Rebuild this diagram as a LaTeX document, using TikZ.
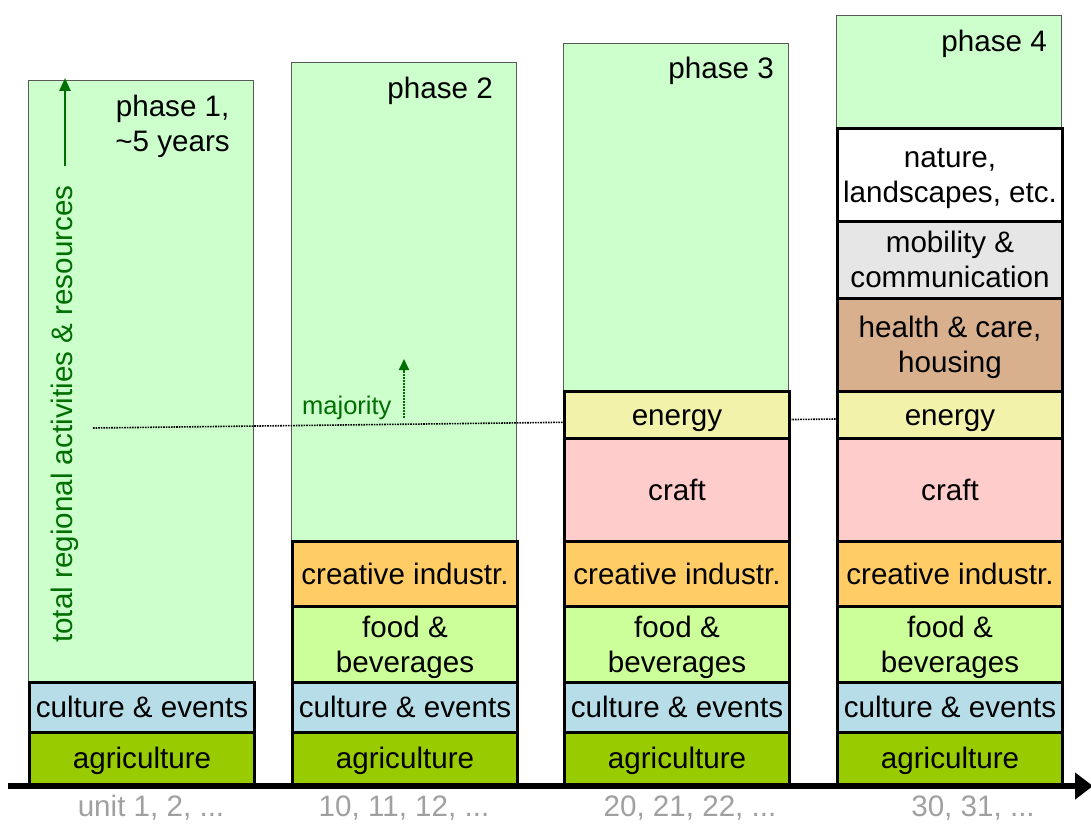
\documentclass[tikz,border=0pt]{standalone}
\usepackage{fontspec}
\setmainfont{Liberation Sans}
\usetikzlibrary{arrows.meta}
\definecolor{bggreen}{HTML}{CCFFCC}
\definecolor{cultcol}{HTML}{B7DEE8}
\definecolor{agricol}{HTML}{99CC00}
\definecolor{foodcol}{HTML}{CCFF99}
\definecolor{creacol}{HTML}{FFCC66}
\definecolor{craftcol}{HTML}{FFCCCC}
\definecolor{energycol}{HTML}{F2F2AA}
\definecolor{healthcol}{HTML}{D8B08E}
\definecolor{mobcol}{HTML}{E6E6E6}
\definecolor{darkgrn}{RGB}{0,110,0}
\definecolor{axisgray}{RGB}{160,160,160}
\newcommand{\lblfont}{\fontsize{29.6}{35}\selectfont}
\newcommand{\st}{\rule[-7.3pt]{0pt}{35pt}}
\newcommand{\segbox}[6]{%
  \node[seg, fill=#5, minimum height={(#4-#3)*1pt}, anchor=north west] (#1) at (#2,#3) {#6};}
\newcommand{\bgbox}[4]{%
  \node[bgbox, minimum height={(#4-#3)*1pt}, anchor=north west] (#1) at (#2,#3) {};}
\begin{document}
\begin{tikzpicture}[x=1pt,y=-1pt,
  seg/.style={draw=black, line width=3pt, minimum width=225pt, inner sep=0pt, align=center, font=\lblfont},
  bgbox/.style={draw=black!65, line width=1.2pt, fill=bggreen, minimum width=225pt, inner sep=0pt},
  phaselbl/.style={font=\lblfont, align=center, anchor=east, inner sep=0pt},
  unitlbl/.style={font=\lblfont, text=axisgray, inner sep=0pt},
  grnlbl/.style={text=darkgrn, inner sep=0pt}]
\useasboundingbox (0,0) rectangle (1091,824);

% green backgrounds
\bgbox{bg1}{28}{80}{681}
\bgbox{bg2}{291}{62}{540}
\bgbox{bg3}{563}{43}{390}
\bgbox{bg4}{836}{15}{127}

% phase labels
\node[phaselbl] (ph1) at (230,124) {\st phase 1,\\\st\textasciitilde5 years};
\node[phaselbl] (ph2) at (493,88) {\st phase 2};
\node[phaselbl] (ph3) at (774,68) {\st phase 3};
\node[phaselbl] (ph4) at (1047,41) {\st phase 4};

% majority dotted line
\coordinate (majL) at (93,428);
\coordinate (majR) at (836,419);
\draw[black, line width=1.6pt, densely dotted] (majL) -- (majR);

% left axis label and arrow
\node[grnlbl, font=\lblfont, rotate=90] (total) at (65,414) {total regional activities \& resources};
\coordinate (upS) at (65,166);
\coordinate (upE) at (65,78);
\draw[darkgrn, line width=2.5pt, -{Triangle[length=13pt,width=11pt]}] (upS) -- (upE);

% majority label and arrow
\node[grnlbl, font=\fontsize{25.5}{28}\selectfont, anchor=base west] (maj) at (302,414) {majority};
\coordinate (mjS) at (404,418);
\coordinate (mjE) at (404,359);
\draw[darkgrn, line width=2pt, densely dotted, -{Triangle[length=11pt,width=10pt]}] (mjS) -- (mjE);

% column 1
\segbox{c1cult}{28}{681}{731}{cultcol}{\st culture \& events}
\segbox{c1agri}{28}{731}{783}{agricol}{\st agriculture}
% column 2
\segbox{c2crea}{291}{540}{605}{creacol}{\st creative industr.}
\segbox{c2food}{291}{605}{681}{foodcol}{\st food \&\\\st beverages}
\segbox{c2cult}{291}{681}{731}{cultcol}{\st culture \& events}
\segbox{c2agri}{291}{731}{783}{agricol}{\st agriculture}
% column 3
\segbox{c3ener}{563}{390}{437}{energycol}{\st energy}
\segbox{c3craft}{563}{437}{540}{craftcol}{\st craft}
\segbox{c3crea}{563}{540}{605}{creacol}{\st creative industr.}
\segbox{c3food}{563}{605}{681}{foodcol}{\st food \&\\\st beverages}
\segbox{c3cult}{563}{681}{731}{cultcol}{\st culture \& events}
\segbox{c3agri}{563}{731}{783}{agricol}{\st agriculture}
% column 4
\segbox{c4nat}{836}{127}{220}{white}{\st nature,\\\st landscapes, etc.}
\segbox{c4mob}{836}{220}{297}{mobcol}{\st mobility \&\\\st communication}
\segbox{c4hea}{836}{297}{390}{healthcol}{\st health \& care,\\\st housing}
\segbox{c4ener}{836}{390}{437}{energycol}{\st energy}
\segbox{c4craft}{836}{437}{540}{craftcol}{\st craft}
\segbox{c4crea}{836}{540}{605}{creacol}{\st creative industr.}
\segbox{c4food}{836}{605}{681}{foodcol}{\st food \&\\\st beverages}
\segbox{c4cult}{836}{681}{731}{cultcol}{\st culture \& events}
\segbox{c4agri}{836}{731}{783}{agricol}{\st agriculture}

% time axis
\coordinate (axS) at (8,786);
\coordinate (axE) at (1093,786);
\draw[black, line width=6.5pt, -{Triangle[length=18pt,width=26pt]}] (axS) -- (axE);

% unit labels
\node[unitlbl] (u1) at (151,808) {unit 1, 2, ...};
\node[unitlbl] (u2) at (404,808) {10, 11, 12, ...};
\node[unitlbl] (u3) at (690,808) {20, 21, 22, ...};
\node[unitlbl] (u4) at (973,808) {30, 31, ...};
\end{tikzpicture}
\end{document}
